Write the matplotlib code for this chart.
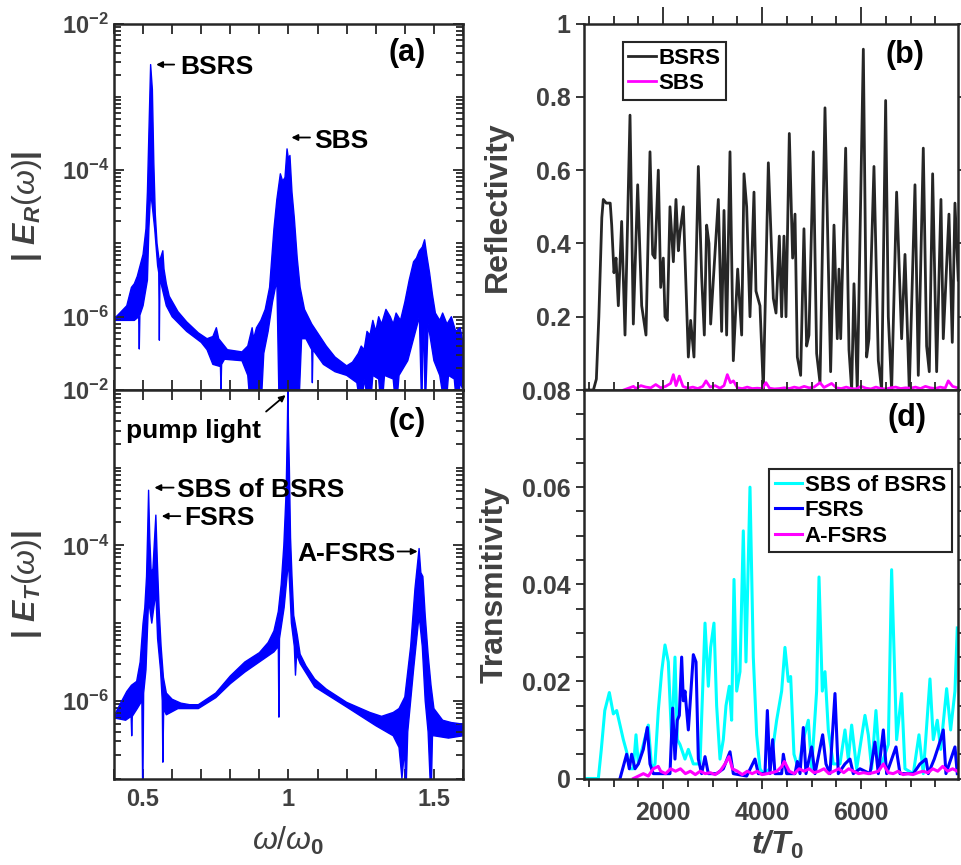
import numpy as np
import matplotlib
matplotlib.use('Agg')
import matplotlib.pyplot as plt
from matplotlib.ticker import FixedLocator, FixedFormatter, MultipleLocator, NullFormatter

plt.rcParams['font.family'] = ['Liberation Sans', 'DejaVu Sans']
plt.rcParams['font.weight'] = 'bold'
plt.rcParams['axes.labelweight'] = 'bold'
plt.rcParams['mathtext.fontset'] = 'custom'
plt.rcParams['mathtext.rm'] = 'Liberation Sans:weight=normal'
plt.rcParams['mathtext.it'] = 'Liberation Sans:style=italic:weight=normal'
plt.rcParams['mathtext.bf'] = 'Liberation Sans:weight=bold'
plt.rcParams['mathtext.bfit'] = 'Liberation Sans:style=italic:weight=bold'

# spectra: (omega/omega0, log10 |E|) for upper and lower edge of the noisy band
spec_a_upper = [(0.40, -6.03), (0.42, -5.95), (0.444, -5.85), (0.46, -5.6), (0.47, -5.55), (0.48, -5.45),
                (0.50, -5.15), (0.51, -4.8), (0.515, -4.3), (0.52, -3.5), (0.526, -2.56), (0.532, -2.9),
                (0.537, -3.9), (0.542, -4.6), (0.548, -5.0), (0.556, -5.25), (0.568, -5.1), (0.572, -5.35),
                (0.58, -5.55), (0.59, -5.72), (0.62, -5.93), (0.65, -6.07), (0.69, -6.22), (0.72, -6.3),
                (0.74, -6.27), (0.752, -6.15), (0.76, -6.3), (0.79, -6.45), (0.84, -6.48), (0.86, -6.4),
                (0.875, -6.15), (0.88, -6.3), (0.89, -6.15), (0.905, -6.05), (0.92, -5.9), (0.935, -5.6),
                (0.95, -4.8), (0.96, -4.4), (0.972, -4.05), (0.98, -4.15), (0.988, -4.1), (0.995, -3.71),
                (1.000, -3.85), (1.005, -3.8), (1.012, -4.3), (1.02, -4.65), (1.03, -5.2), (1.04, -5.6),
                (1.055, -5.9), (1.08, -6.1), (1.10, -6.22), (1.13, -6.4), (1.16, -6.55), (1.20, -6.67),
                (1.22, -6.62), (1.24, -6.5), (1.25, -6.4), (1.26, -6.45), (1.27, -6.2), (1.28, -6.25),
                (1.29, -6.05), (1.30, -6.2), (1.31, -6.0), (1.32, -6.1), (1.335, -5.9), (1.35, -6.0),
                (1.36, -6.1), (1.37, -5.95), (1.385, -6.05), (1.40, -5.8), (1.415, -5.5), (1.43, -5.25),
                (1.44, -5.2), (1.45, -5.1), (1.46, -5.05), (1.468, -4.95), (1.475, -5.15), (1.485, -5.4),
                (1.495, -5.7), (1.505, -5.95), (1.52, -6.05), (1.53, -5.95), (1.545, -6.1), (1.56, -6.0),
                (1.575, -6.2), (1.59, -6.15), (1.60, -6.35)]
spec_a_lower = [(0.40, -6.05), (0.44, -6.05), (0.47, -6.05), (0.485, -6.0), (0.487, -6.44), (0.489, -5.98),
                (0.50, -5.85), (0.515, -5.5), (0.52, -4.8), (0.526, -4.3), (0.532, -4.5), (0.54, -4.8),
                (0.55, -5.3), (0.554, -5.4), (0.556, -6.32), (0.558, -5.45), (0.565, -5.6), (0.58, -5.85),
                (0.60, -6.0), (0.65, -6.2), (0.70, -6.35), (0.72, -6.45), (0.74, -6.65), (0.766, -6.68),
                (0.768, -7.0), (0.770, -6.65), (0.78, -6.58), (0.84, -6.6), (0.86, -6.8), (0.87, -7.3),
                (0.905, -7.3), (0.915, -6.5), (0.93, -6.2), (0.945, -5.8), (0.96, -5.5), (0.968, -7.3),
                (1.035, -7.3), (1.045, -6.3), (1.06, -6.3), (1.08, -6.45), (1.082, -6.9), (1.084, -6.45),
                (1.12, -6.65), (1.16, -6.75), (1.20, -6.8), (1.235, -6.9), (1.25, -7.3), (1.26, -6.85),
                (1.28, -7.3), (1.29, -6.8), (1.31, -6.85), (1.32, -7.3), (1.33, -6.8), (1.36, -6.85),
                (1.37, -7.3), (1.38, -6.8), (1.41, -6.6), (1.43, -6.3), (1.45, -6.0), (1.458, -7.3),
                (1.465, -5.9), (1.47, -7.3), (1.48, -6.1), (1.50, -6.6), (1.52, -6.8), (1.54, -7.3),
                (1.55, -6.8), (1.57, -6.85), (1.58, -7.3), (1.59, -6.9), (1.60, -7.0)]

spec_c_upper = [(0.40, -6.2), (0.42, -6.05), (0.444, -5.88), (0.46, -5.8), (0.478, -5.75), (0.49, -5.5),
                (0.50, -5.0), (0.506, -4.8), (0.512, -4.4), (0.516, -3.8), (0.519, -3.29), (0.523, -3.9),
                (0.528, -4.35), (0.534, -4.3), (0.539, -3.95), (0.544, -3.61), (0.549, -4.2), (0.555, -4.8),
                (0.562, -5.3), (0.57, -5.7), (0.58, -5.9), (0.60, -5.98), (0.63, -6.03), (0.66, -6.05),
                (0.69, -6.05), (0.75, -5.9), (0.80, -5.68), (0.85, -5.5), (0.90, -5.38), (0.93, -5.25),
                (0.95, -5.1), (0.965, -4.85), (0.975, -4.5), (0.984, -4.0), (0.992, -3.3), (0.996, -2.5),
                (0.998, -1.98), (1.000, -2.5), (1.003, -3.0), (1.007, -3.9), (1.012, -4.4), (1.018, -4.9),
                (1.03, -5.15), (1.04, -5.4), (1.06, -5.55), (1.09, -5.72), (1.13, -5.85), (1.20, -6.02),
                (1.28, -6.15), (1.32, -6.2), (1.36, -6.15), (1.38, -6.1), (1.40, -5.95), (1.42, -5.3),
                (1.435, -4.55), (1.449, -4.04), (1.455, -4.35), (1.462, -4.4), (1.47, -4.9), (1.48, -5.4),
                (1.49, -5.8), (1.50, -6.1), (1.53, -6.25), (1.56, -6.28), (1.60, -6.3)]
spec_c_lower = [(0.40, -6.22), (0.44, -6.25), (0.459, -6.2), (0.461, -6.45), (0.463, -6.2), (0.48, -6.1),
                (0.496, -6.0), (0.499, -7.3), (0.502, -5.9), (0.51, -5.6), (0.519, -4.7), (0.53, -5.0),
                (0.544, -4.6), (0.55, -5.2), (0.56, -5.6), (0.566, -6.0), (0.568, -6.79), (0.571, -6.1),
                (0.58, -6.18), (0.62, -6.1), (0.69, -6.1), (0.75, -5.96), (0.80, -5.78), (0.85, -5.63),
                (0.90, -5.5), (0.95, -5.37), (0.965, -5.3), (0.967, -6.21), (0.969, -5.2), (0.985, -4.8),
                (0.99, -4.6), (1.0, -4.2), (1.01, -5.0), (1.02, -5.3), (1.024, -5.67), (1.028, -5.4),
                (1.04, -5.52), (1.09, -5.82), (1.20, -6.08), (1.30, -6.32), (1.36, -6.45), (1.38, -6.6),
                (1.39, -7.0), (1.40, -6.6), (1.403, -7.3), (1.41, -6.4), (1.43, -5.6), (1.449, -4.9),
                (1.46, -5.3), (1.47, -6.0), (1.48, -6.4), (1.49, -7.3), (1.495, -6.45), (1.50, -6.45),
                (1.55, -6.48), (1.60, -6.45)]

# reflectivity (t/T0, R)
refl_bsrs = [(400, 0.0), (590, 0.0), (650, 0.03), (700, 0.2), (760, 0.47), (790, 0.52), (850, 0.51),
             (930, 0.51), (960, 0.45), (1006, 0.32), (1047, 0.36), (1094, 0.23), (1161, 0.46), (1229, 0.15),
             (1330, 0.75), (1397, 0.18), (1485, 0.56), (1566, 0.23), (1653, 0.15), (1734, 0.65), (1788, 0.37),
             (1835, 0.36), (1902, 0.60), (1950, 0.28), (2003, 0.36), (2037, 0.20), (2084, 0.19), (2138, 0.50),
             (2206, 0.35), (2259, 0.52), (2307, 0.38), (2340, 0.43), (2408, 0.50), (2509, 0.09), (2556, 0.19),
             (2623, 0.09), (2711, 0.61), (2778, 0.31), (2832, 0.15), (2879, 0.45), (2926, 0.40), (2960, 0.18),
             (3014, 0.30), (3115, 0.52), (3182, 0.16), (3230, 0.49), (3283, 0.15), (3351, 0.65), (3418, 0.08),
             (3506, 0.33), (3587, 0.15), (3634, 0.59), (3688, 0.50), (3755, 0.20), (3836, 0.54), (3876, 0.27),
             (3957, 0.23), (4025, 0.0), (4126, 0.62), (4227, 0.25), (4281, 0.21), (4348, 0.42), (4395, 0.20),
             (4442, 0.42), (4483, 0.20), (4550, 0.70), (4617, 0.36), (4665, 0.48), (4712, 0.09), (4779, 0.04),
             (4846, 0.44), (4900, 0.12), (4947, 0.15), (5035, 0.65), (5102, 0.10), (5170, 0.02), (5271, 0.77),
             (5385, 0.05), (5453, 0.45), (5520, 0.14), (5554, 0.33), (5588, 0.14), (5689, 0.66), (5756, 0.11),
             (5810, 0.0), (5857, 0.29), (5924, 0.0), (6046, 0.93), (6113, 0.09), (6160, 0.14), (6261, 0.61),
             (6349, 0.08), (6416, 0.0), (6497, 0.79), (6551, 0.20), (6618, 0.0), (6719, 0.54), (6820, 0.14),
             (6888, 0.37), (6975, 0.0), (7090, 0.56), (7157, 0.04), (7258, 0.66), (7325, 0.12), (7379, 0.05),
             (7447, 0.59), (7528, 0.05), (7615, 0.52), (7662, 0.14), (7777, 0.48), (7844, 0.13), (7898, 0.51),
             (7965, 0.30)]
refl_sbs = [(1200, 0.0), (1300, 0.005), (1400, 0.01), (1450, 0.004), (1550, 0.012), (1650, 0.008),
            (1750, 0.006), (1850, 0.015), (1950, 0.006), (2050, 0.01), (2150, 0.018), (2206, 0.042),
            (2260, 0.012), (2327, 0.038), (2400, 0.01), (2500, 0.005), (2600, 0.008), (2700, 0.004),
            (2800, 0.01), (2866, 0.025), (2950, 0.008), (3050, 0.012), (3150, 0.005), (3230, 0.012),
            (3297, 0.042), (3360, 0.02), (3420, 0.025), (3500, 0.006), (3600, 0.004), (3700, 0.008),
            (3800, 0.004), (3900, 0.005), (4000, 0.004), (4078, 0.02), (4150, 0.005), (4250, 0.003),
            (4350, 0.004), (4450, 0.006), (4550, 0.004), (4650, 0.008), (4750, 0.005), (4850, 0.01),
            (4950, 0.006), (5050, 0.008), (5170, 0.02), (5250, 0.007), (5405, 0.018), (5500, 0.006),
            (5600, 0.004), (5700, 0.008), (5800, 0.004), (5900, 0.003), (6000, 0.01), (6100, 0.005),
            (6200, 0.003), (6300, 0.008), (6400, 0.004), (6500, 0.003), (6600, 0.006), (6700, 0.008),
            (6800, 0.004), (6900, 0.006), (7000, 0.005), (7100, 0.008), (7200, 0.004), (7300, 0.01),
            (7400, 0.006), (7500, 0.004), (7600, 0.008), (7700, 0.005), (7763, 0.025), (7850, 0.01),
            (7950, 0.006)]

# transmitivity (t/T0, T)
trans_sbs_bsrs = [(400, 0.0), (690, 0.0), (750, 0.006), (820, 0.014), (912, 0.0177), (993, 0.0133),
                  (1060, 0.014), (1128, 0.011), (1195, 0.008), (1262, 0.0055), (1330, 0.002), (1397, 0.002),
                  (1451, 0.009), (1498, 0.003), (1599, 0.007), (1700, 0.011), (1768, 0.002), (1835, 0.003),
                  (1902, 0.014), (1970, 0.022), (2037, 0.0275), (2104, 0.024), (2172, 0.008), (2239, 0.025),
                  (2286, 0.008), (2340, 0.007), (2441, 0.004), (2509, 0.006), (2610, 0.003), (2745, 0.003),
                  (2846, 0.032), (2913, 0.019), (2960, 0.027), (3027, 0.032), (3081, 0.015), (3149, 0.004),
                  (3216, 0.008), (3270, 0.015), (3337, 0.019), (3384, 0.012), (3432, 0.041), (3486, 0.018),
                  (3553, 0.022), (3620, 0.051), (3674, 0.024), (3755, 0.060), (3822, 0.025), (3890, 0.009),
                  (3957, 0.002), (4025, 0.001), (4159, 0.002), (4294, 0.012), (4395, 0.018), (4462, 0.027),
                  (4530, 0.020), (4577, 0.021), (4644, 0.005), (4732, 0.002), (4833, 0.008), (4934, 0.012),
                  (5001, 0.002), (5102, 0.018), (5150, 0.0415), (5217, 0.018), (5271, 0.022), (5338, 0.010),
                  (5439, 0.003), (5574, 0.003), (5675, 0.010), (5742, 0.004), (5810, 0.011), (5911, 0.002),
                  (6079, 0.013), (6147, 0.009), (6214, 0.002), (6301, 0.014), (6382, 0.002), (6551, 0.007),
                  (6618, 0.043), (6719, 0.008), (6820, 0.0175), (6888, 0.002), (7056, 0.001), (7171, 0.009),
                  (7258, 0.001), (7393, 0.0205), (7460, 0.008), (7541, 0.012), (7609, 0.006), (7730, 0.0185),
                  (7811, 0.010), (7898, 0.018), (7945, 0.031)]
trans_fsrs = [(1128, 0.0), (1195, 0.0025), (1262, 0.005), (1316, 0.002), (1363, 0.005), (1431, 0.002),
              (1498, 0.003), (1599, 0.006), (1680, 0.0105), (1734, 0.003), (1801, 0.001), (2003, 0.001),
              (2138, 0.001), (2192, 0.0145), (2239, 0.004), (2286, 0.012), (2327, 0.013), (2374, 0.025),
              (2408, 0.016), (2441, 0.018), (2509, 0.010), (2542, 0.015), (2610, 0.0255), (2664, 0.024),
              (2711, 0.004), (2778, 0.001), (2846, 0.0045), (2913, 0.001), (3081, 0.001), (3216, 0.002),
              (3351, 0.0055), (3418, 0.001), (3688, 0.0005), (3856, 0.004), (3923, 0.001), (4058, 0.001),
              (4106, 0.014), (4159, 0.001), (4213, 0.008), (4260, 0.001), (4395, 0.001), (4429, 0.005),
              (4496, 0.001), (4665, 0.001), (4712, 0.0035), (4766, 0.001), (4833, 0.0105), (4887, 0.001),
              (5001, 0.0065), (5069, 0.001), (5224, 0.009), (5291, 0.003), (5372, 0.001), (5473, 0.0175),
              (5540, 0.001), (5675, 0.003), (5776, 0.004), (5843, 0.001), (5978, 0.002), (6180, 0.001),
              (6281, 0.0075), (6349, 0.001), (6450, 0.010), (6517, 0.001), (6706, 0.0065), (6787, 0.001),
              (7056, 0.001), (7191, 0.003), (7312, 0.004), (7359, 0.001), (7480, 0.004), (7609, 0.008),
              (7662, 0.010), (7716, 0.001), (7898, 0.0065), (7945, 0.001)]
trans_afsrs = [(1400, 0.0), (1500, 0.0005), (1600, 0.001), (1700, 0.0005), (1800, 0.002), (1900, 0.0025),
               (1950, 0.0015), (2050, 0.001), (2150, 0.002), (2250, 0.0015), (2350, 0.002), (2450, 0.001),
               (2550, 0.0015), (2650, 0.0008), (2750, 0.0015), (2850, 0.001), (2950, 0.0012), (3050, 0.0008),
               (3150, 0.0015), (3250, 0.003), (3330, 0.0045), (3400, 0.002), (3500, 0.0015), (3600, 0.0008),
               (3700, 0.0015), (3800, 0.001), (3900, 0.0015), (4000, 0.0008), (4100, 0.001), (4200, 0.0012),
               (4300, 0.0015), (4400, 0.0025), (4450, 0.0035), (4550, 0.0015), (4650, 0.001), (4750, 0.002),
               (4850, 0.0015), (4950, 0.002), (5050, 0.0012), (5150, 0.0015), (5250, 0.002), (5350, 0.001),
               (5450, 0.0015), (5550, 0.002), (5650, 0.0012), (5750, 0.002), (5850, 0.0015), (5950, 0.001),
               (6050, 0.0012), (6150, 0.001), (6250, 0.0012), (6350, 0.0015), (6450, 0.003), (6550, 0.0012),
               (6650, 0.001), (6750, 0.0015), (6850, 0.0008), (6950, 0.001), (7050, 0.0008), (7150, 0.0012),
               (7250, 0.0015), (7350, 0.0012), (7450, 0.002), (7550, 0.0015), (7650, 0.0025), (7750, 0.0015),
               (7850, 0.002), (7950, 0.0015)]

DARK = '#262626'
GREY = '#404040'

fig = plt.figure(figsize=(9.61, 8.65), dpi=100)
ax_a = fig.add_axes([0.1186, 0.5491, 0.3632, 0.4237])
ax_c = fig.add_axes([0.1186, 0.1000, 0.3632, 0.4491])
ax_b = fig.add_axes([0.6077, 0.5491, 0.3892, 0.4237])
ax_d = fig.add_axes([0.6077, 0.1000, 0.3892, 0.4491])


def draw_spectrum(ax, upper, lower):
    up = np.array(upper)
    lo = np.array(lower)
    xs = np.concatenate([up[:, 0], lo[::-1, 0]])
    ys = 10 ** np.concatenate([up[:, 1], lo[::-1, 1]])
    ax.fill(xs, ys, color='#0000ff', lw=0)
    ax.plot(up[:, 0], 10 ** up[:, 1], color='#0000ff', lw=1.0)
    ax.plot(lo[:, 0], 10 ** lo[:, 1], color='#0000ff', lw=1.0)
    ax.set_yscale('log')
    ax.set_xlim(0.4, 1.6)
    ax.set_ylim(1e-7, 1e-2)
    ax.yaxis.set_major_locator(FixedLocator([1e-6, 1e-4, 1e-2]))
    ax.yaxis.set_major_formatter(FixedFormatter([r'$\mathbf{10^{-6}}$', r'$\mathbf{10^{-4}}$',
                                                 r'$\mathbf{10^{-2}}$']))
    minors = [m * 10.0 ** e for e in range(-7, -2) for m in range(1, 10)]
    ax.yaxis.set_minor_locator(FixedLocator(minors))
    ax.yaxis.set_minor_formatter(NullFormatter())
    ax.xaxis.set_major_locator(FixedLocator([0.5, 1.0, 1.5]))
    ax.xaxis.set_major_formatter(FixedFormatter(['0.5', '1', '1.5']))
    ax.xaxis.set_minor_locator(MultipleLocator(0.1))
    ax.tick_params(which='both', direction='in', top=True, right=True, color=DARK,
                   labelcolor=GREY, labelsize=17, width=1.3)
    ax.tick_params(which='major', length=7)
    ax.tick_params(which='minor', length=5)
    ax.tick_params(axis='x', which='minor', length=7)
    ax.tick_params(axis='x', pad=7)
    for s in ax.spines.values():
        s.set_color(DARK)
        s.set_linewidth(1.8)


draw_spectrum(ax_a, spec_a_upper, spec_a_lower)
draw_spectrum(ax_c, spec_c_upper, spec_c_lower)
ax_a.tick_params(labelbottom=False)

arrow = dict(arrowstyle='-|>', color='k', lw=1.3, mutation_scale=9, shrinkA=0, shrinkB=0)
lbl = dict(fontsize=19, fontweight='bold', color='k', va='center')

ax_a.annotate('', xy=(0.545, 10 ** -2.56), xytext=(0.607, 10 ** -2.56), arrowprops=arrow)
ax_a.text(0.628, 10 ** -2.59, 'BSRS', ha='left', **lbl)
ax_a.annotate('', xy=(1.010, 10 ** -3.555), xytext=(1.074, 10 ** -3.555), arrowprops=arrow)
ax_a.text(1.087, 10 ** -3.60, 'SBS', ha='left', **lbl)
ax_a.text(0.84, 0.92, '(a)', transform=ax_a.transAxes, fontsize=22, ha='center', va='center')

ax_c.annotate('', xy=(0.99, 10 ** -2.065), xytext=(0.923, 10 ** -2.277), arrowprops=arrow)
ax_c.text(0.441, 10 ** -2.53, 'pump light', ha='left', **lbl)
ax_c.annotate('', xy=(0.539, 10 ** -3.256), xytext=(0.605, 10 ** -3.256), arrowprops=arrow)
ax_c.text(0.616, 10 ** -3.29, 'SBS of BSRS', ha='left', **lbl)
ax_c.annotate('', xy=(0.564, 10 ** -3.623), xytext=(0.628, 10 ** -3.623), arrowprops=arrow)
ax_c.text(0.643, 10 ** -3.65, 'FSRS', ha='left', **lbl)
ax_c.annotate('', xy=(1.444, 10 ** -4.078), xytext=(1.375, 10 ** -4.078), arrowprops=arrow)
ax_c.text(1.369, 10 ** -4.11, 'A-FSRS', ha='right', **lbl)
ax_c.text(0.84, 0.918, '(c)', transform=ax_c.transAxes, fontsize=22, ha='center', va='center')

ax_a.set_ylabel(r'| $\mathbfit{E}_{\mathbfit{R}}(\omega)$|', fontsize=23, color=GREY)
ax_a.yaxis.set_label_coords(-0.20, 0.5)
ax_c.set_ylabel(r'| $\mathbfit{E}_{\mathbfit{T}}(\omega)$|', fontsize=23, color=GREY)
ax_c.yaxis.set_label_coords(-0.20, 0.5)
ax_c.set_xlabel(r'$\omega/\omega_{\mathbf{0}}$', fontsize=23, color=GREY)
ax_c.xaxis.set_label_coords(0.5, -0.12)

# right column
t, r = np.array(refl_bsrs).T
ax_b.plot(t, r, color=DARK, lw=2.0, label='BSRS')
t, r = np.array(refl_sbs).T
ax_b.plot(t, r, color='#ff00ff', lw=2.0, label='SBS')
ax_b.set_ylim(0, 1)
ax_b.set_yticks([0.2, 0.4, 0.6, 0.8, 1.0])
ax_b.set_yticklabels(['0.2', '0.4', '0.6', '0.8', '1'])
leg_kw = dict(loc='upper left', fontsize=16, frameon=True, fancybox=False, framealpha=1,
              edgecolor=DARK, handlelength=1.25, handletextpad=0.1, borderpad=0.25,
              labelspacing=0.2, borderaxespad=0)
ax_b.legend(bbox_to_anchor=(0.104, 0.949), **leg_kw).get_frame().set_linewidth(1.5)
ax_b.text(0.858, 0.914, '(b)', transform=ax_b.transAxes, fontsize=22, ha='center', va='center')
ax_b.set_ylabel('Reflectivity', fontsize=23, color=GREY)
ax_b.yaxis.set_label_coords(-0.19, 0.5)

t, r = np.array(trans_sbs_bsrs).T
ax_d.plot(t, r, color='#00ffff', lw=2.2, label='SBS of BSRS')
t, r = np.array(trans_fsrs).T
ax_d.plot(t, r, color='#0000ff', lw=2.2, label='FSRS')
t, r = np.array(trans_afsrs).T
ax_d.plot(t, r, color='#ff00ff', lw=2.2, label='A-FSRS')
ax_d.set_ylim(0, 0.08)
ax_d.set_yticks([0, 0.02, 0.04, 0.06, 0.08])
ax_d.set_yticklabels(['0', '0.02', '0.04', '0.06', '0.08'])
ax_d.yaxis.set_minor_locator(MultipleLocator(0.005))
ax_d.legend(bbox_to_anchor=(0.495, 0.796), **leg_kw).get_frame().set_linewidth(1.5)
ax_d.text(0.864, 0.928, '(d)', transform=ax_d.transAxes, fontsize=22, ha='center', va='center')
ax_d.set_ylabel('Transmitivity', fontsize=23, color=GREY)
ax_d.yaxis.set_label_coords(-0.20, 0.5)
ax_d.set_xlabel(r'$\mathbfit{t/T}_{\mathbf{0}}$', fontsize=23, color=GREY)
ax_d.xaxis.set_label_coords(0.516, -0.13)

for ax in (ax_b, ax_d):
    ax.set_xlim(400, 7960)
    ax.xaxis.set_major_locator(FixedLocator([2000, 4000, 6000]))
    ax.xaxis.set_minor_locator(MultipleLocator(500))
    ax.tick_params(which='both', direction='out', right=True, color=DARK, labelcolor=GREY,
                   labelsize=18, width=1.3, length=6)
    for s in ax.spines.values():
        s.set_color(DARK)
        s.set_linewidth(1.8)

ax_b.tick_params(axis='x', which='both', top=True, bottom=False, labelbottom=False)
ax_b.tick_params(axis='x', which='major', length=12)
ax_d.tick_params(axis='x', which='both', top=True)
ax_d.tick_params(axis='x', which='major', length=7, pad=9)
ax_d.tick_params(axis='y', which='minor', length=6)

fig.savefig('out.png', dpi=100)
